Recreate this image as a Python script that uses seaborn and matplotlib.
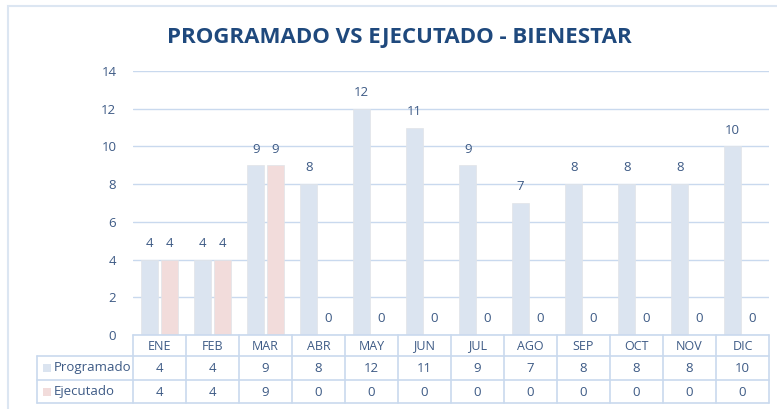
import matplotlib
matplotlib.use("Agg")
from matplotlib import pyplot as plt
from matplotlib.lines import Line2D
from matplotlib.patches import Rectangle
import seaborn as sns
import pandas as pd

meses = ['ENE', 'FEB', 'MAR', 'ABR', 'MAY', 'JUN', 'JUL', 'AGO', 'SEP', 'OCT', 'NOV', 'DIC']
programado = [4, 4, 9, 8, 12, 11, 9, 7, 8, 8, 8, 10]
ejecutado = [4, 4, 9, 0, 0, 0, 0, 0, 0, 0, 0, 0]
series = ['Programado', 'Ejecutado']
colores = ['#dbe4f0', '#f2dcdb']

txt = '#3d5a85'
linea = '#c9d9ee'

sns.set_style('white')
plt.rcParams['font.family'] = ['Open Sans', 'DejaVu Sans']

df = pd.DataFrame({
    'mes': meses * 2,
    'serie': [series[0]] * len(meses) + [series[1]] * len(meses),
    'valor': programado + ejecutado,
})

W, H = 777, 409
fig = plt.figure(figsize=(W / 100, H / 100), dpi=100)

def fx(px):
    return px / W

def fy(py):
    return 1 - py / H

# marco exterior del grafico
fig.add_artist(Rectangle((fx(8), -0.1), 1.2, fy(6) + 0.1, transform=fig.transFigure,
                         fill=False, edgecolor='#dce6f2', linewidth=1.5))

x0, x1, y0, y1 = 133, 769, 335, 71
ax = fig.add_axes([fx(x0), fy(y0), (x1 - x0) / W, (y0 - y1) / H])
sns.barplot(data=df, x='mes', y='valor', hue='serie', palette=colores, ax=ax,
            width=0.74, gap=0.12, legend=False, saturation=1,
            edgecolor='#e1e4e8', linewidth=0.5)
for c in ax.containers:
    ax.bar_label(c, padding=7, color=txt, fontsize=9.5)

ax.set_ylim(0, 14)
ax.set_yticks(range(0, 15, 2))
ax.set_xlim(-0.5, len(meses) - 0.5)
ax.yaxis.grid(True, color=linea, linewidth=1)
ax.set_axisbelow(True)
ax.tick_params(axis='y', colors=txt, labelsize=9.5, length=0, pad=12)
ax.set_xticks([])
ax.set_xlabel('')
ax.set_ylabel('')
for s in ax.spines.values():
    s.set_visible(False)

fig.text(399 / W, fy(37), 'PROGRAMADO VS EJECUTADO - BIENESTAR', ha='center', va='center',
         fontsize=16, fontweight='bold', color='#1f497d')

# tabla de datos
filas = [335, 356, 380, 403]
col_w = (x1 - x0) / len(meses)
lab_x = 37

def hline(xa, xb, yy):
    fig.add_artist(Line2D([fx(xa), fx(xb)], [fy(yy), fy(yy)], color=linea, lw=1.2,
                          transform=fig.transFigure))

def vline(xx, ya, yb):
    fig.add_artist(Line2D([fx(xx), fx(xx)], [fy(ya), fy(yb)], color=linea, lw=1.2,
                          transform=fig.transFigure))

for i, yy in enumerate(filas):
    hline(x0 if i == 0 else lab_x, x1, yy)
for j in range(len(meses) + 1):
    vline(x0 + j * col_w, 335, 403)
vline(lab_x, 356, 403)

for j, m in enumerate(meses):
    cx = fx(x0 + (j + 0.5) * col_w)
    fig.text(cx, fy(346), m, ha='center', va='center', fontsize=9, color=txt)
    fig.text(cx, fy(368), str(programado[j]), ha='center', va='center', fontsize=9.5, color=txt)
    fig.text(cx, fy(392), str(ejecutado[j]), ha='center', va='center', fontsize=9.5, color=txt)

for nombre, col, yy in zip(series, colores, [368, 392]):
    fig.add_artist(Rectangle((fx(43), fy(yy + 4)), 8 / W, 8 / H, transform=fig.transFigure,
                             facecolor=col, edgecolor='none'))
    fig.text(fx(54), fy(yy), nombre, ha='left', va='center', fontsize=9.5, color=txt)

fig.savefig('out.png', dpi=100)
